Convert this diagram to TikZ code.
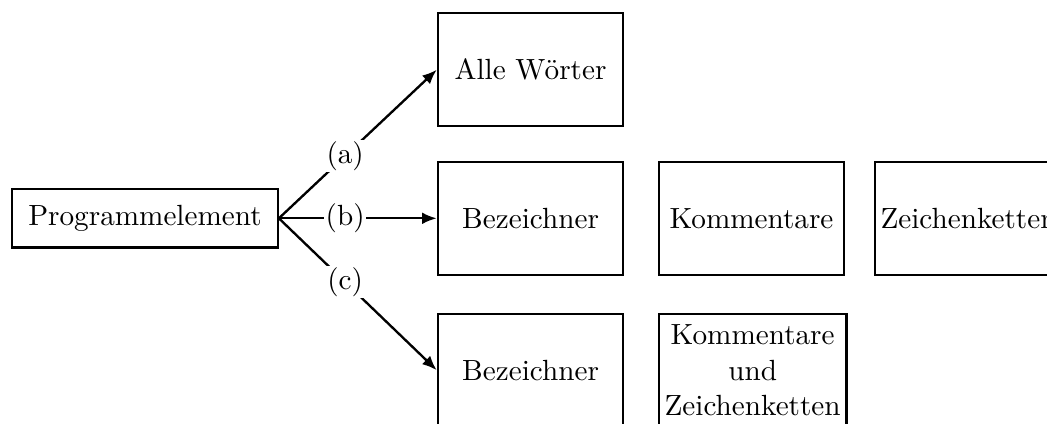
\documentclass[tikz,border=0pt]{standalone}
\usepackage{tikz}
\usetikzlibrary{positioning, arrows.meta, calc}

\begin{document}
\begin{tikzpicture}[
	thick,
	node distance=4.2mm,
	box/.style={draw, minimum width=2.23cm, minimum height=1.36cm, inner sep=2pt, align=center},
	lbl/.style={fill=white, inner sep=0.5pt},
	pfeil/.style={-{Latex[length=5pt, width=4pt]}},
	]
	
	\node[draw, inner sep=5.5pt] (prog) {Programmelement};
	
	% (b) mittlere Zeile
	\node[box, right=1.9cm of prog] (bez1) {Bezeichner};
	\node[box, right=4mm of bez1] (komm) {Kommentare};
	\node[box, right=3.4mm of komm] (zeich) {Zeichenketten};
	
	% (a) und (c)
	\node[box, above=4mm of bez1] (alle) {Alle W\"orter};
	\node[box, below=4.4mm of bez1] (bez2) {Bezeichner};
	\node[box, right=4mm of bez2] (kommzeich) {Kommentare\\und\\Zeichenketten};
	
	\draw[pfeil] (prog.east) -- node[lbl, pos=0.42] {(a)} (alle.west);
	\draw[pfeil] (prog.east) -- node[lbl, pos=0.42] {(b)} (bez1.west);
	\draw[pfeil] (prog.east) -- node[lbl, pos=0.42] {(c)} (bez2.west);
	
	% Ausschnitt: rechte und untere Kaesten werden angeschnitten
	\pgfresetboundingbox
	\path[use as bounding box] ($(prog.west |- alle.north)+(-1.33mm,1.45mm)$) rectangle ++(12.6cm,-5.1cm);
	
\end{tikzpicture}
\end{document}
